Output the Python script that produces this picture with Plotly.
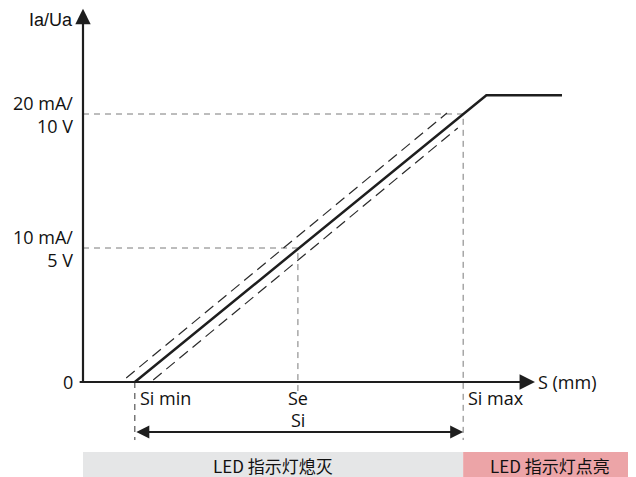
import plotly.graph_objects as go

# ---- data (S in arbitrary mm units, output in mA) ----
s_marks = [0.96, 3.98, 7.04]            # Si min, Se, Si max
s_mark_labels = ["Si min", "Se", "Si max"]
out_levels = [0, 10, 20]
out_labels = ["0", "10 mA/<br>5 V", "20 mA/<br>10 V"]

main_s = [0.96, 7.47, 8.87]
main_out = [0, 21.4, 21.4]

upper_s = [0.80, 6.74]
upper_out = [0.30, 20.07]
lower_s = [1.30, 6.94]
lower_out = [0.15, 18.96]

zone_labels = ["LED 指示灯熄灭", "LED 指示灯点亮"]

# ---- layout helpers (page body has an 8px margin) ----
W, H = 628, 469
X_MIN, X_MAX = -75 / 54, 553 / 54
Y_MIN, Y_MAX = -95 / 13.4, 374 / 13.4
si_min, se, si_max = s_marks

FONT = "Open Sans, Noto Sans, DejaVu Sans"
CJK = "Noto Sans CJK SC"
REF_DASH = "#7a7a7a"

fig = go.Figure()

# reference dashed lines
fig.add_trace(go.Scatter(x=[0, si_max, si_max], y=[out_levels[2], out_levels[2], -4.33],
                         mode="lines", line=dict(color=REF_DASH, width=1, dash="6px,5px"),
                         hoverinfo="skip"))
fig.add_trace(go.Scatter(x=[0, se, se], y=[out_levels[1], out_levels[1], -0.82],
                         mode="lines", line=dict(color=REF_DASH, width=1, dash="6px,5px"),
                         hoverinfo="skip"))
fig.add_trace(go.Scatter(x=[si_min, si_min], y=[0, -4.33],
                         mode="lines", line=dict(color="#333", width=1, dash="6px,5px"),
                         hoverinfo="skip"))

# tolerance band
for xs, ys in [(upper_s, upper_out), (lower_s, lower_out)]:
    fig.add_trace(go.Scatter(x=xs, y=ys, mode="lines",
                             line=dict(color="#2a2a2a", width=1.2, dash="11px,6px"),
                             hoverinfo="skip"))

# main characteristic
fig.add_trace(go.Scatter(x=main_s, y=main_out, mode="lines",
                         line=dict(color="#1e1e1e", width=2.5), hoverinfo="skip"))

# zone bars
fig.add_shape(type="rect", x0=0, x1=si_max, y0=Y_MIN, y1=-5.22,
              fillcolor="#e5e6e7", line=dict(width=0), layer="below")
fig.add_shape(type="rect", x0=si_max, x1=X_MAX, y0=Y_MIN, y1=-5.22,
              fillcolor="#eca4a7", line=dict(width=0), layer="below")

annotations = []

# axes with arrows
annotations.append(dict(x=0, y=27.85, ax=0, ay=-0.05, xref="x", yref="y", axref="x", ayref="y",
                        showarrow=True, arrowhead=2, arrowsize=1.4, arrowwidth=2.2,
                        arrowcolor="#1e1e1e", text=""))
annotations.append(dict(x=8.37, y=0, ax=-0.09, ay=0, xref="x", yref="y", axref="x", ayref="y",
                        showarrow=True, arrowhead=2, arrowsize=1.4, arrowwidth=2.2,
                        arrowcolor="#1e1e1e", text=""))
# double arrow Si
annotations.append(dict(x=si_max, y=-3.73, ax=si_min, ay=-3.73, xref="x", yref="y",
                        axref="x", ayref="y", showarrow=True, arrowhead=2, startarrowhead=2,
                        arrowside="end+start", arrowsize=1.3, startarrowsize=1.3, arrowwidth=2,
                        arrowcolor="#1e1e1e", text=""))

# y labels
for lvl, lab in zip(out_levels, out_labels):
    annotations.append(dict(x=0, y=lvl, xref="x", yref="y", text=lab, showarrow=False,
                            xanchor="right", yanchor="middle", align="right", xshift=-8,
                            font=dict(family=FONT, size=18, color="#111")))
annotations.append(dict(x=0, y=27.0, xref="x", yref="y", text="Ia/Ua", showarrow=False,
                        xanchor="right", yanchor="middle", xshift=-8,
                        font=dict(family="Liberation Sans, Arial", size=18, color="#111")))
annotations.append(dict(x=8.37, y=0, xref="x", yref="y", text="S (mm)", showarrow=False,
                        xanchor="left", yanchor="middle", xshift=1,
                        font=dict(family=FONT, size=18, color="#111")))

# x labels
annotations.append(dict(x=si_min, y=-1.2, xref="x", yref="y", text=s_mark_labels[0],
                        showarrow=False, xanchor="left", yanchor="middle", xshift=3,
                        font=dict(family=FONT, size=18, color="#111")))
annotations.append(dict(x=se, y=-1.2, xref="x", yref="y", text=s_mark_labels[1],
                        showarrow=False, xanchor="center", yanchor="middle",
                        font=dict(family=FONT, size=18, color="#111")))
annotations.append(dict(x=se, y=-2.85, xref="x", yref="y", text="Si",
                        showarrow=False, xanchor="center", yanchor="middle",
                        font=dict(family=FONT, size=18, color="#111")))
annotations.append(dict(x=si_max, y=-1.2, xref="x", yref="y", text=s_mark_labels[2],
                        showarrow=False, xanchor="left", yanchor="middle", xshift=3,
                        font=dict(family=FONT, size=18, color="#111")))

# zone labels
annotations.append(dict(x=(0 + si_max) / 2, y=-6.2, xref="x", yref="y", text=zone_labels[0],
                        showarrow=False, xanchor="center", yanchor="middle",
                        font=dict(family=CJK, size=17, color="#111")))
annotations.append(dict(x=(si_max + X_MAX) / 2, y=-6.2, xref="x", yref="y", text=zone_labels[1],
                        showarrow=False, xanchor="center", yanchor="middle",
                        font=dict(family=CJK, size=17, color="#111")))

fig.update_layout(
    width=W, height=H, autosize=False,
    margin=dict(l=0, r=0, t=0, b=0),
    paper_bgcolor="white", plot_bgcolor="white",
    showlegend=False,
    xaxis=dict(range=[X_MIN, X_MAX], visible=False, fixedrange=True),
    yaxis=dict(range=[Y_MIN, Y_MAX], visible=False, fixedrange=True),
    annotations=annotations,
)

fig.write_html("out.html")
